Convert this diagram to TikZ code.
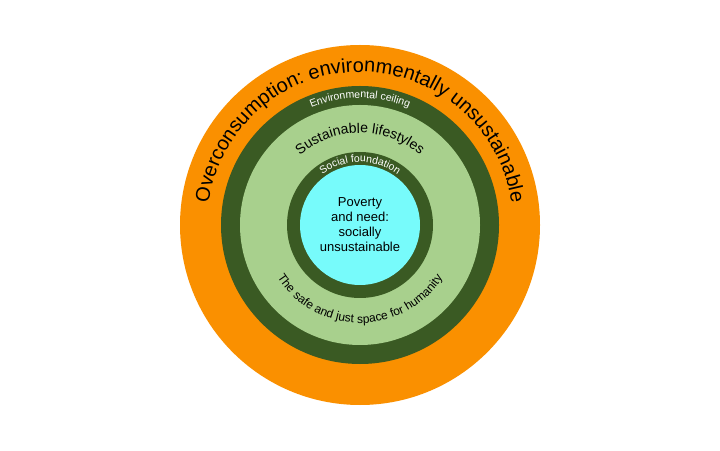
\documentclass[tikz,border=0pt]{standalone}
\usepackage{fontspec}
\setmainfont{Liberation Sans}
\usetikzlibrary{decorations.text}
\definecolor{overorange}{HTML}{FA9000}
\definecolor{ringgreen}{HTML}{3A5A23}
\definecolor{spacegreen}{HTML}{A8D08D}
\definecolor{povertycyan}{HTML}{77FBFB}
\begin{document}
\begin{tikzpicture}[x=1pt,y=1pt,
  disc/.style={circle,inner sep=0pt,minimum size=#1},
  arclabel/.style={decorate,decoration={text along path,text align=center,text={#1}}}]
  \useasboundingbox (0,0) rectangle (720,450);
  \coordinate (centre) at (360,225);
  \node (outer)   [disc=360pt,fill=overorange]   at (centre) {};
  \node (ceiling) [disc=278pt,fill=ringgreen]    at (centre) {};
  \node (space)   [disc=240pt,fill=spacegreen]   at (centre) {};
  \node (found)   [disc=146pt,fill=ringgreen]    at (centre) {};
  \node (poverty) [disc=120pt,fill=povertycyan,align=center,font=\fontsize{13}{15}\selectfont]
    at (centre) {Poverty\\and need:\\socially\\unsustainable};
  % labels along the rings
  \path[arclabel={|\fontsize{20}{20}\selectfont|Overconsumption: environmentally unsustainable}]
    ([shift={(178:153)}]centre) arc (178:2:153);
  \path[arclabel={|\fontsize{10.5}{11}\selectfont\color{white}|Environmental ceiling}]
    ([shift={(130:127)}]centre) arc (130:50:127);
  \path[arclabel={|\fontsize{14}{14}\selectfont|Sustainable lifestyles}]
    ([shift={(140:92)}]centre) arc (140:40:92);
  \path[arclabel={|\fontsize{10.5}{11}\selectfont\color{white}|Social foundation}]
    ([shift={(140:63)}]centre) arc (140:40:63);
  \path[arclabel={|\fontsize{12}{12}\selectfont|The safe and just space for humanity}]
    ([shift={(200:98)}]centre) arc (200:340:98);
\end{tikzpicture}
\end{document}
